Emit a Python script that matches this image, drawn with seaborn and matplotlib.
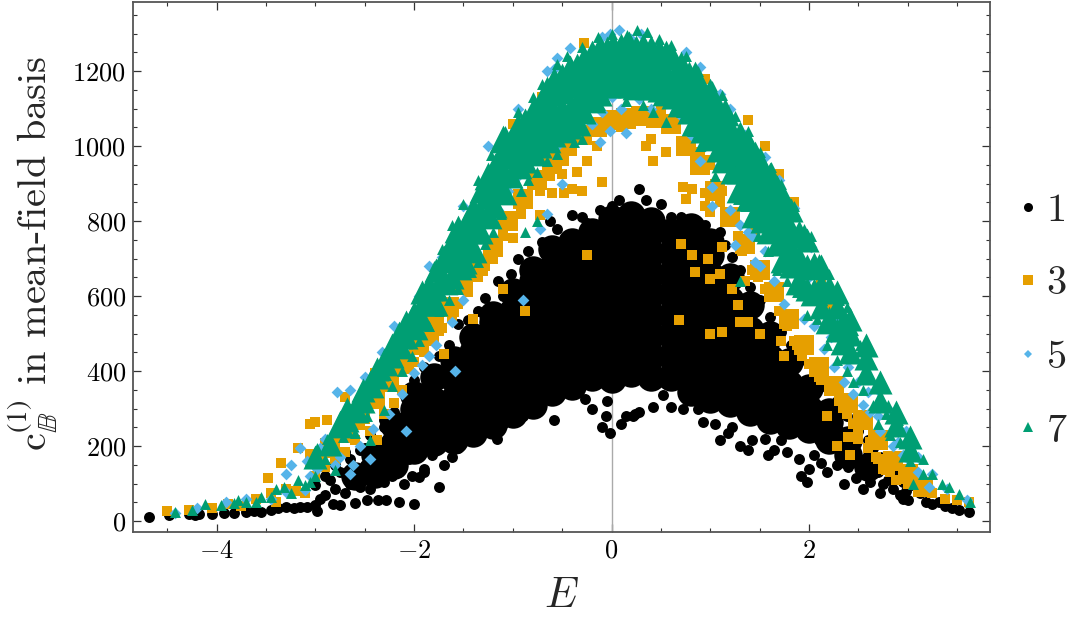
import matplotlib
matplotlib.use("Agg")
import matplotlib.pyplot as plt
from matplotlib.lines import Line2D
from matplotlib.ticker import MultipleLocator
import seaborn as sns

# All values (E, coefficient).
# *_dense / *_mid: estimated readings for regions where marks merge into a solid area.
black_dense = [
(-2.6,120),(-2.4,125),(-2.4,175),(-2.2,150),(-2.2,205),(-2.2,255),
(-2.0,190),(-2.0,245),(-2.0,300),(-2.0,335),(-1.8,210),(-1.8,265),(-1.8,320),(-1.8,385),
(-1.6,215),(-1.6,270),(-1.6,325),(-1.6,380),(-1.6,430),(-1.4,235),(-1.4,290),(-1.4,345),(-1.4,400),(-1.4,450),(-1.4,490),
(-1.2,255),(-1.2,310),(-1.2,365),(-1.2,420),(-1.2,475),(-1.2,530),(-1.2,550),
(-1.0,285),(-1.0,340),(-1.0,395),(-1.0,450),(-1.0,505),(-1.0,560),(-1.0,610),
(-.8,310),(-.8,365),(-.8,420),(-.8,475),(-.8,530),(-.8,585),(-.8,640),(-.8,670),
(-.6,345),(-.6,400),(-.6,455),(-.6,510),(-.6,565),(-.6,620),(-.6,675),(-.6,725),
(-.4,360),(-.4,415),(-.4,470),(-.4,525),(-.4,580),(-.4,635),(-.4,690),(-.4,745),
(-.2,385),(-.2,440),(-.2,495),(-.2,550),(-.2,605),(-.2,660),(-.2,715),(-.2,770),
(0,380),(0,435),(0,490),(0,545),(0,600),(0,655),(0,710),(0,765),(0,805),
(.2,395),(.2,450),(.2,505),(.2,560),(.2,615),(.2,670),(.2,725),(.2,780),(.2,815),
(.4,385),(.4,440),(.4,495),(.4,550),(.4,605),(.4,660),(.4,715),(.4,770),(.4,800),
(.6,385),(.6,440),(.6,495),(.6,550),(.6,605),(.6,660),(.6,715),(.6,770),
(.8,345),(.8,400),(.8,455),(.8,510),(.8,565),(.8,620),(.8,675),(.8,730),(.8,785),
(1.0,325),(1.0,380),(1.0,435),(1.0,490),(1.0,545),(1.0,600),(1.0,655),(1.0,710),(1.0,745),
(1.2,315),(1.2,370),(1.2,425),(1.2,480),(1.2,535),(1.2,590),(1.2,650),
(1.4,290),(1.4,345),(1.4,400),(1.4,455),(1.4,510),(1.4,575),
(1.6,270),(1.6,325),(1.6,380),(1.6,435),(1.6,495),
(1.8,255),(1.8,310),(1.8,365),(1.8,425),(2.0,245),(2.0,300),(2.0,355),
(2.2,215),(2.2,265),(2.2,290),(2.4,175),(2.4,215),(2.6,145),
]
black_edge = [
(-4.68,10),(-4.48,15),(-4.28,18),(-4.22,17),(-4.18,18),(-4.05,20),(-3.92,22),(-3.82,22),(-3.7,25),(-3.62,28),(-3.55,25),(-3.45,30),
(-3.38,35),(-3.3,38),(-3.22,35),(-3.15,38),(-3.08,38),(-3.0,42),(-2.98,28),(-2.82,45),(-2.75,42),(-2.6,48),(-2.48,55),(-2.36,55),(-2.28,55),(-2.15,52),(-2.0,45),
(-2.9,70),(-2.8,85),(-2.7,75),(-2.65,100),(-2.55,90),(-2.45,85),(-2.4,115),(-2.3,105),(-2.22,120),(-2.1,100),(-1.95,118),(-1.75,90),
(-2.95,60),(-2.85,110),(-2.75,130),(-2.65,165),(-2.55,190),(-2.5,150),(-2.4,215),(-2.3,250),(-2.2,290),(-2.1,340),(-2.0,375),(-1.9,410),(-1.85,365),
(-3.0,95),(-2.9,120),(-2.8,150),(-2.7,185),(-2.6,140),(-2.5,195),(-2.45,230),(-2.35,190),(-2.3,270),(-2.15,130),(-2.05,165),(-1.9,130),
(-1.75,440),(-1.65,470),(-1.55,525),(-1.45,535),(-1.35,560),(-1.28,595),(-1.15,640),(-1.1,600),(-1.02,660),(-.95,700),(-.85,720),(-.78,690),(-.7,745),(-.62,800),
(-.55,780),(-.4,815),(-.3,810),(-.25,795),(-.12,830),(-.08,795),(.0,840),(.08,855),(.12,825),(.18,800),(.28,885),(.35,855),(.42,815),(.5,845),(.6,810),(.7,810),(.78,805),(.85,800),(.95,790),
(1.1,770),(1.15,735),(1.22,705),(1.3,670),(1.4,625),(1.5,590),(1.6,545),(1.72,505),(1.82,470),(1.92,430),(2.05,395),(2.15,360),(2.28,320),(2.38,280),(2.5,240),(2.6,215),(2.72,170),(2.85,130),(2.95,105),
(3.05,95),(3.12,75),(3.18,50),(3.25,45),(3.32,50),(3.38,40),(3.45,35),(3.52,30),(3.62,25),(2.75,100),(2.85,85),(2.92,70),(2.98,80),(2.72,75),(2.62,105),(2.55,85),(2.48,115),(2.4,145),(2.35,100),(2.28,150),
(2.18,130),(2.12,155),(2.05,175),(2.0,140),(1.92,120),(1.98,105),(1.9,165),(1.78,185),(1.72,215),(1.65,190),(1.58,175),(1.55,220),(1.42,215),(1.38,190),(1.3,200),(1.22,250),(1.18,235),(1.1,215),(1.05,260),(.93,265),
(.88,300),(.82,325),(.72,300),(.6,305),(.52,335),(.42,305),(.28,290),(.24,285),(.22,280),(.15,280),(.1,260),(-.05,320),(-.06,280),(-.02,235),(-.1,250),(-.2,300),(-.27,325),(-.38,355),(-.58,270),(-.62,350),
(-.78,340),(-.85,310),(-.9,280),(-.98,275),(-1.1,260),(-1.16,220),(-1.28,250),(-1.35,225),(-1.55,195),(-1.62,170),(-1.7,150),(-1.82,175),(-1.9,140),(-2.02,120),
(2.5,165),(2.6,175),(2.7,130),(2.8,110),(2.65,195),(2.45,190),(2.3,240),(2.2,200),(2.1,215),(2.85,110),(2.95,60),(3.0,55),
]
orange_dense = [
(-3.0,165),(-2.85,195),(-2.7,235),(-2.55,285),(-2.4,325),(-2.25,370),(-2.1,420),(-1.95,470),(-1.8,520),(-1.65,570),(-1.5,630),(-1.35,680),(-1.2,730),(-1.05,800),(-.9,860),(-.75,910),(-.6,960),(-.45,1000),(-.3,1030),(-.15,1050),(0,1070),(.15,1075),(.3,1080),(.45,1075),(.6,1060),(.75,1000),(.9,950),(1.05,880),(1.2,810),(1.35,740),(1.5,670),(1.65,610),(1.8,540),(1.95,470),(2.1,410),(2.25,360),(2.4,315),(2.55,270),(2.7,215),(2.85,160),(3.0,125),(3.15,90),
]
orange_edge = [
(-4.5,28),(-4.28,30),(-4.05,35),(-3.88,45),(-3.75,40),(-3.6,60),(-3.45,75),(-3.3,85),(-3.2,80),(-3.1,75),(-3.4,50),(-3.0,120),(-2.9,145),(-2.8,165),(-2.7,185),(-2.6,215),(-2.45,240),(-2.38,215),(-2.55,255),
(-3.18,195),(-3.35,155),(-3.48,115),(-3.0,265),(-2.88,270),(-2.3,285),(-2.2,315),(-2.12,350),(-2.05,405),(-2.0,425),(-1.9,450),(-1.8,480),(-1.72,515),(-1.62,545),(-1.55,580),(-1.45,610),(-1.35,650),(-1.28,680),(-1.2,700),
(-1.1,760),(-1.02,800),(-.92,820),(-.85,860),(-.72,880),(-.65,920),(-.55,940),(-.48,960),(-.4,1000),(-.3,1020),(-.2,1040),(-.1,1065),(.1,1050),(.2,1060),(.3,1085),(.4,1070),(.5,1100),(.65,1065),(.8,1010),(.9,985),(1.0,950),
(1.05,900),(1.12,880),(1.2,800),(1.28,760),(1.32,720),(1.42,670),(1.48,650),(1.55,620),(1.62,600),(1.7,560),(1.78,520),(1.85,480),(1.93,440),(2.0,420),(2.1,385),(2.2,360),(2.3,320),(2.38,285),(2.45,260),(2.5,240),(2.6,195),
(2.68,170),(2.78,135),(2.88,110),(3.0,100),(3.12,85),(3.25,75),(3.38,60),(3.5,55),(3.62,50),
(-1.7,445),(-1.4,540),(-1.1,620),(-1.0,755),(-.72,815),(-.6,875),(-.62,920),(-.5,925),(-.4,885),(-.35,930),(-.3,880),(-.25,960),(-.1,905),(-.15,1000),(.35,1000),(.42,960),(.55,985),(.75,860),(.82,885),(.95,875),(1.0,825),(1.1,850),(.72,890),(.95,840),
(-.25,710),(-.88,560),(.7,740),(.82,710),(.85,665),(.98,700),(1.0,645),(1.18,805),(1.12,730),(1.22,620),(1.35,640),(1.28,575),(1.3,530),(1.1,660),(1.0,500),(.68,535),(1.12,505),(1.38,530),(1.5,500),(1.72,480),(1.75,440),(1.88,470),(2.12,375),(2.18,280),
(2.3,345),(2.4,225),(2.5,220),(2.62,210),(2.42,175),(2.28,200),(2.7,165),(2.82,130),(2.95,115),(2.75,140),(.4,1020),(-.48,875),(1.15,1080),(1.38,1070),(1.55,1000),(1.7,925),(1.85,850),(2.0,730),(2.12,640),(2.25,530),(-.28,1275),
(-1.95,555),(-1.62,730),(-1.3,870),(-1.0,1060),(-.7,1130),(.9,1120),(.95,1180),(-2.4,395),(-2.7,330),(-3.05,260),(1.0,1000),(1.3,950),(1.45,770),(1.6,760),(1.8,740),(2.2,580),(2.35,480),
]
blue_edge = [
(-4.42,22),(-4.2,35),(-3.9,50),(-3.7,58),(-3.45,60),(-3.3,78),(-3.1,82),(-3.05,120),(-2.98,138),(-2.8,150),(-2.75,170),(-2.65,125),(-2.55,200),(-2.42,245),(-2.25,285),(-2.12,340),(-2.0,395),(-1.92,415),(-1.85,440),(-1.78,470),(-1.62,530),(-1.5,590),
(-3.3,125),(-3.25,150),(-3.15,195),(-3.08,160),(-2.95,195),(-2.9,220),(-2.78,345),(-2.65,350),(-2.5,385),(-2.32,450),(-2.2,520),(-1.95,600),(-1.85,680),(-1.72,705),(-1.5,840),(-1.25,1000),(-.95,1100),(-.65,1200),(-.58,1205),(-.55,1235),(-.42,1262),(-.1,1290),(-.02,1300),(.08,1310),(.2,1285),(.3,1300),(.75,1250),(.9,1210),(1.1,1140),(1.2,1100),(1.35,1030),(1.55,970),(1.7,910),(1.85,835),(2.02,730),(2.1,680),(2.2,600),(2.3,540),(2.45,480),(2.55,420),(2.7,350),(2.8,300),(2.98,240),(3.1,170),(3.25,125),(3.4,85),(3.6,55),
(-1.5,690),(-1.38,720),(-1.3,760),(-1.2,820),(-1.15,830),(-1.05,880),(-.95,920),(-.85,955),(-.7,990),(-.55,1000),(-.42,1030),(-.35,1040),(-.2,1060),(-.1,1090),(0,1130),(.1,1100),(.28,1125),(.4,1100),(.55,1115),(.7,1080),(.8,1030),(.9,960),(1.02,890),(1.1,950),(1.2,830),(1.3,790),(1.38,770),(1.45,690),(1.55,720),(1.65,640),(1.75,580),(1.85,620),(1.95,540),(2.05,520),(2.15,460),(2.25,410),(2.35,370),(2.45,340),(2.55,310),(2.62,290),(2.72,240),(2.85,200),(2.95,175),(3.1,130),(3.22,90),
(-.65,820),(-.72,780),(-.9,590),(-1.58,400),(-2.08,240),(-2.45,165),(-2.62,150),(1.02,840),(1.25,735),(1.42,760),(1.5,680),(1.3,960),(1.6,870),(1.7,800),(1.82,770),(1.9,700),(2.0,650),(2.12,580),(2.22,490),(2.4,410),(2.5,370),(2.6,345),(2.7,280),(2.9,210),(3.0,165),(.95,1000),(1.12,1050),(-.02,1040),(.15,1035),(-.12,1010),(-.5,900),
]
green_dense = [
(-2.75,260),(-2.6,300),(-2.45,365),(-2.3,425),(-2.15,470),(-2.15,495),(-2.0,520),(-2.0,550),(-1.85,585),(-1.85,625),(-1.7,640),(-1.7,700),(-1.55,680),(-1.55,730),(-1.55,780),(-1.4,725),(-1.4,775),(-1.4,830),
(-1.25,815),(-1.25,870),(-1.25,920),(-1.1,880),(-1.1,930),(-1.1,985),(-1.1,1020),(-.95,950),(-.95,1000),(-.95,1050),(-.8,985),(-.8,1035),(-.8,1090),(-.65,1020),(-.65,1070),(-.65,1125),(-.65,1150),(-.5,1045),(-.5,1095),(-.5,1150),(-.5,1185),
(-.35,1065),(-.35,1115),(-.35,1165),(-.35,1210),(-.2,1125),(-.2,1175),(-.2,1225),(-.2,1245),(-.05,1165),(-.05,1215),(-.05,1255),(.1,1165),(.1,1215),(.1,1265),(.25,1160),(.25,1210),(.25,1260),(.4,1160),(.4,1210),(.4,1260),
(.55,1145),(.55,1195),(.55,1245),(.7,1115),(.7,1165),(.7,1215),(.85,1065),(.85,1115),(.85,1165),(.85,1190),(1.0,1025),(1.0,1075),(1.0,1125),(1.0,1145),(1.15,965),(1.15,1015),(1.15,1065),(1.15,1090),(1.3,885),(1.3,935),(1.3,985),(1.3,1030),
(1.45,820),(1.45,870),(1.45,920),(1.45,975),(1.6,775),(1.6,825),(1.6,875),(1.6,920),(1.75,700),(1.75,750),(1.75,800),(1.75,855),(1.9,640),(1.9,700),(1.9,765),(2.05,610),(2.05,680),(2.2,535),(2.2,620),(2.35,480),(2.35,530),
]
green_mid = [
(-3.0,170),(-2.85,205),(-2.68,270),(-2.68,300),(-2.52,320),(-2.52,350),(-2.38,385),(-2.38,405),(-2.22,440),(-2.22,470),(-2.08,490),(-2.08,530),
(-1.92,540),(-1.92,580),(-1.92,610),(-1.78,580),(-1.78,620),(-1.78,670),(-1.62,650),(-1.62,700),(-1.62,745),(-1.48,690),(-1.48,740),(-1.48,790),
(-1.32,770),(-1.32,820),(-1.32,880),(-1.18,840),(-1.18,890),(-1.18,950),(-1.02,920),(-1.02,970),(-1.02,1020),(-.88,960),(-.88,1010),(-.88,1070),
(-.72,1000),(-.72,1050),(-.72,1110),(-.58,1030),(-.58,1080),(-.58,1140),(-.58,1180),(-.42,1050),(-.42,1100),(-.42,1160),(-.42,1210),
(-.28,1090),(-.28,1140),(-.28,1190),(-.28,1235),(-.12,1140),(-.12,1190),(-.12,1240),(-.12,1265),(.02,1170),(.02,1220),(.02,1270),
(.18,1160),(.18,1220),(.18,1275),(.32,1170),(.32,1220),(.32,1270),(.48,1150),(.48,1200),(.48,1255),(.62,1130),(.62,1180),(.62,1235),
(.78,1090),(.78,1140),(.78,1195),(.92,1040),(.92,1090),(.92,1150),(1.08,990),(1.08,1040),(1.08,1100),(1.22,930),(1.22,980),(1.22,1040),
(1.38,860),(1.38,910),(1.38,960),(1.38,1010),(1.52,800),(1.52,850),(1.52,900),(1.52,950),(1.68,740),(1.68,790),(1.68,840),(1.68,890),
(1.82,680),(1.82,730),(1.82,780),(1.82,830),(1.98,620),(1.98,680),(1.98,750),(2.12,570),(2.12,630),(2.12,680),(2.28,510),(2.28,570),(2.28,610),
(2.42,450),(2.42,500),(2.42,540),(2.58,395),(2.58,435),(2.58,470),(2.72,320),(2.72,370),(2.88,255),(2.88,290),(3.02,190),(3.02,225),
]
green_edge = [
(-4.42,25),(-4.25,30),(-4.12,45),(-3.95,42),(-3.82,48),(-3.78,55),(-3.7,50),(-3.6,50),(-3.55,65),(-3.45,65),(-3.4,85),(-3.32,90),(-3.25,75),(-3.18,110),(-3.1,95),(-3.05,105),(-3.0,120),(-2.98,195),(-2.9,165),(-2.85,195),(-2.88,220),(-2.8,135),(-2.72,225),(-2.65,260),(-2.6,235),(-2.55,310),(-2.48,280),(-2.42,350),(-2.35,370),(-2.28,390),(-2.22,440),(-2.1,490),(-2.02,560),(-1.9,620),(-1.8,680),(-1.72,725),(-1.62,790),
(-1.5,845),(-1.35,910),(-1.22,975),(-1.08,1040),(-.95,1090),(-.8,1130),(-.7,1165),(-.55,1220),(-.45,1240),(-.3,1265),(-.14,1290),(0,1298),(.16,1295),(.26,1310),(.36,1305),(.48,1285),(.6,1270),(.75,1240),(.88,1200),(1.02,1160),(1.12,1135),(1.25,1080),(1.38,1040),(1.5,985),(1.62,945),(1.72,900),(1.85,840),(1.95,780),(2.02,760),(2.1,700),(2.2,660),(2.3,590),(2.38,570),(2.45,510),(2.52,470),(2.62,420),(2.72,365),(2.8,310),(2.9,270),(3.0,225),(3.05,190),(3.15,165),(3.25,125),(3.35,100),(3.42,90),(3.52,72),(3.63,52),
(-2.45,215),(-2.3,295),(-2.22,360),(-2.12,400),(-2.02,440),(-1.95,480),(-1.85,520),(-1.75,560),(-1.65,590),(-1.55,620),(-1.42,665),(-1.35,690),(-1.28,740),(-1.2,770),(-1.12,820),(-1.05,860),(-.92,880),(-.85,910),(-.75,930),(-.65,960),(-.55,980),(-.38,1010),(-.3,1020),(-.22,1075),(-.12,1110),(.15,1120),(.32,1110),(.42,1090),(.55,1065),(.7,1090),(.82,1040),(.9,1000),(1.05,920),(1.15,950),(1.28,860),(1.35,840),(1.42,800),(1.48,760),(1.58,720),(1.68,670),(1.78,640),(1.88,610),(1.98,550),(2.08,540),(2.18,470),(2.28,430),(2.38,400),(2.45,370),(2.55,350),(2.65,310),(2.7,260),(2.82,230),(2.92,210),(3.02,160),(3.15,125),
(2.78,285),(3.05,100),(-.88,770),(-.75,800),(1.3,640),
]
legend_labels = ["1", "3", "5", "7"]

sns.set_theme(style="ticks")
plt.rcParams.update({
    "font.family": "serif", "font.serif": ["cmr10"], "mathtext.fontset": "cm",
    "axes.formatter.use_mathtext": True, "axes.unicode_minus": False,
})
BLACK, ORANGE, BLUE, GREEN = "#000000", "#E69F00", "#56B4E9", "#009E73"

fig = plt.figure(figsize=(10.8, 6.38), dpi=100)
ax = fig.add_axes([133/1080, 1-532/638, (990-133)/1080, (532-2)/638])

def scatter(points, color, marker, size, z):
    xs = [p[0] for p in points]
    ys = [p[1] for p in points]
    sns.scatterplot(x=xs, y=ys, color=color, marker=marker, s=size,
                    linewidth=0, ax=ax, zorder=z, legend=False)

scatter(black_dense, BLACK, "o", 420, 2)
scatter(black_edge, BLACK, "o", 62, 2)
scatter(orange_dense, ORANGE, "s", 200, 3)
scatter(orange_edge, ORANGE, "s", 62, 3)
scatter(blue_edge, BLUE, "D", 36, 4)
scatter(green_dense, GREEN, "^", 400, 5)
scatter(green_mid, GREEN, "^", 300, 5)
scatter(green_edge, GREEN, "^", 62, 5)

ax.axvline(0, color="#aaaaaa", lw=1, zorder=1)
ax.set_xlim(-4.846, 3.833)
ax.set_ylim(-29, 1384)
ax.xaxis.set_minor_locator(MultipleLocator(0.5))
ax.yaxis.set_minor_locator(MultipleLocator(50))
ax.set_xticks([-4, -2, 0, 2])
ax.set_xticklabels(["$-4$", "$-2$", "$0$", "$2$"])
ax.set_yticks([0, 200, 400, 600, 800, 1000, 1200])
ax.set_yticklabels(["$%d$" % v for v in [0, 200, 400, 600, 800, 1000, 1200]])
ax.tick_params(which="major", direction="in", length=5.5, width=0.9, color="#333333",
               top=True, right=True, labelsize=19, labelcolor="black", pad=5)
ax.tick_params(which="minor", direction="in", length=3, width=0.8, color="#333333",
               top=True, right=True)
for s in ax.spines.values():
    s.set_color("#555555")
    s.set_linewidth(1.3)
ax.set_xlabel("$E$", fontsize=31, labelpad=11)
ax.set_ylabel(r"c$_{\mathbb{B}}^{(1)}$ in mean-field basis", fontsize=29,
              math_fontfamily="stix")
ax.yaxis.set_label_coords((60-133)/857, 0.525)

handles = [
    Line2D([], [], ls="", marker="o", color=BLACK, markersize=6.5, markeredgewidth=0),
    Line2D([], [], ls="", marker="s", color=ORANGE, markersize=6.5, markeredgewidth=0),
    Line2D([], [], ls="", marker="D", color=BLUE, markersize=4.5, markeredgewidth=0),
    Line2D([], [], ls="", marker="^", color=GREEN, markersize=7, markeredgewidth=0),
]
leg = fig.legend(handles, ["$%s$" % l for l in legend_labels], loc="center left",
                 bbox_to_anchor=(1010/1080, 1-321/638), frameon=False, fontsize=29,
                 labelspacing=0.93, handletextpad=0.0, handlelength=0.9, borderpad=0, borderaxespad=0)
fig.savefig("out.png", dpi=100)
